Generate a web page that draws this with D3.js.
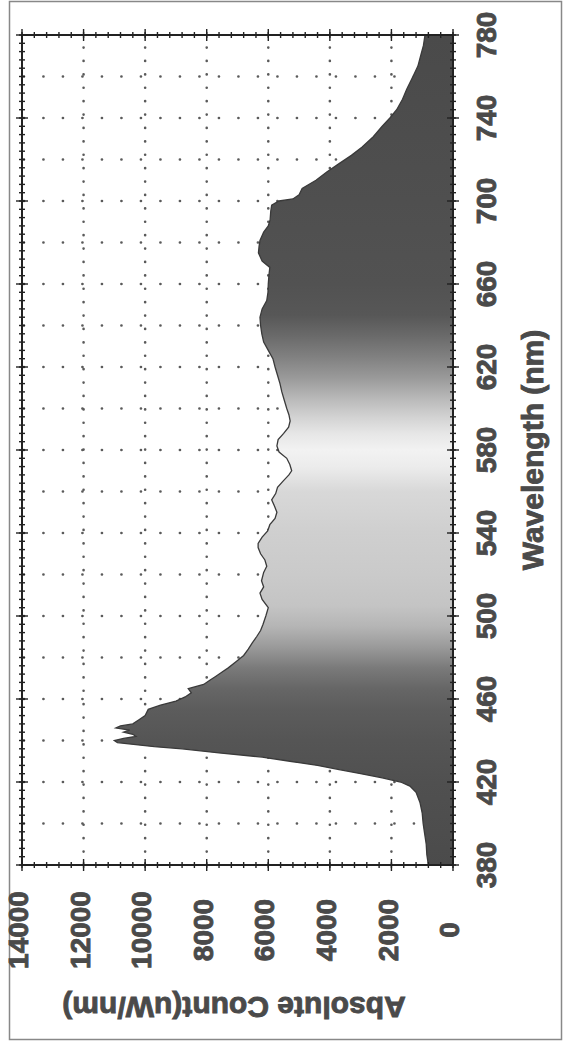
<!DOCTYPE html>
<html><head><meta charset="utf-8">
<script src="https://cdn.jsdelivr.net/npm/d3@7"></script>
<style>
html,body{margin:0;padding:0;background:#fff;}
svg{display:block;font-family:"Liberation Sans",Arial,sans-serif;font-weight:bold;}
</style></head>
<body>
<svg id="c" width="566" height="1052"></svg>
<script>
// ---- data ----
const wavelengths = [380,385,390,395,400,405,410,415,418,420,422,424,426,428,430,432,434,436,437,438,439,440,441,442,443,444,445,446,447,448,450,452,455,457,459,461,463,465,467,469,471,473,475,478,481,484,487,490,493,496,500,504,508,511,514,517,521,524,527,530,533,535,538,541,544,547,550,553,556,559,562,565,568,570,573,576,579,582,585,588,591,594,597,600,604,608,612,616,620,624,628,632,636,640,644,648,652,656,660,664,668,671,675,678,681,685,688,691,695,698,700,701,703,706,710,714,718,722,726,731,736,740,744,749,754,760,765,770,775,780];
const counts = [800,850,870,920,970,1000,1070,1200,1400,1700,2300,3000,3700,4400,5300,6200,7600,8800,9700,10300,10900,11000,10700,10300,10400,10700,10500,10950,10800,10400,10200,10000,9900,9500,9000,8700,8500,8600,8100,7900,7700,7500,7300,7050,6800,6650,6520,6380,6250,6170,6080,6000,6200,6270,6150,6220,6150,6050,6110,6250,6330,6330,6200,6020,5950,5780,5720,5800,5890,5760,5700,5520,5330,5240,5300,5400,5650,5720,5680,5500,5340,5290,5330,5400,5480,5560,5620,5700,5780,5850,6000,6150,6210,6250,6270,6200,6050,6010,6000,5980,5950,6200,6320,6300,6270,6150,6000,5940,5920,5890,5650,5200,5000,4900,4450,4100,3700,3300,2950,2590,2300,2050,1830,1640,1500,1300,1140,1050,960,910];
const wlTicks = [380,420,460,500,540,580,620,660,700,740,780];
const countTicks = [0,2000,4000,6000,8000,10000,12000,14000];
const wlTitle = "Wavelength (nm)";
const countTitle = "Absolute Count(uW/nm)";

// grayscale fill along the wavelength axis
const gradNm   = [380,420,440,455,465,475,485,495,505,520,540,560,572,580,588,596,605,615,625,635,645,660,700,780];
const gradGray = ["#4b4b4b","#505050","#555555","#5c5c5c","#666666","#7a7a7a","#9a9a9a","#b5b5b5","#c4c4c4","#cacaca","#cfcfcf","#d8d8d8","#ececec","#f2f2f2","#e6e6e6","#d2d2d2","#b8b8b8","#999999","#808080","#6a6a6a","#575757","#525252","#4f4f4f","#4a4a4a"];

const W = 566, H = 1052;
const svg = d3.select("#c");
const textColor = "#4a4a4a";

// outer frame
svg.append("rect").attr("x",9.5).attr("y",1.5).attr("width",552).attr("height",1038)
  .attr("fill","none").attr("stroke","#888").attr("stroke-width",1.5);

// chart drawn in normal orientation, then rotated -90deg
const g = svg.append("g").attr("transform",`translate(0,${H}) rotate(-90)`);
const x = d3.scaleLinear().domain([380,780]).range([H-865, H-35]);
const y = d3.scaleLinear().domain([0,14000]).range([453, 22]);

const defs = svg.append("defs");
const grad = defs.append("linearGradient").attr("id","spec")
  .attr("gradientUnits","userSpaceOnUse")
  .attr("x1",x(380)).attr("x2",x(780)).attr("y1",0).attr("y2",0);
gradNm.forEach((n,i)=>grad.append("stop").attr("offset",(n-380)/400).attr("stop-color",gradGray[i]));

// grid
const gridColor = "#5a5a5a";
g.append("g").selectAll("line").data(countTicks.filter(d=>d>0 && d<14000)).join("line")
  .attr("x1",x(380)).attr("x2",x(780)).attr("y1",d=>y(d)).attr("y2",d=>y(d))
  .attr("stroke",gridColor).attr("stroke-width",2.6).attr("stroke-linecap","round")
  .attr("stroke-dasharray","0.1,13.3");
const wlGrid = d3.range(400,780,20);
g.append("g").selectAll("line").data(wlGrid).join("line")
  .attr("x1",d=>x(d)).attr("x2",d=>x(d)).attr("y1",y(0)).attr("y2",y(14000))
  .attr("stroke",gridColor).attr("stroke-width",2.6).attr("stroke-linecap","round")
  .attr("stroke-dasharray","0.1,19.4");

const pts = wavelengths.map((w,i)=>[w,counts[i]]);
const area = d3.area().x(d=>x(d[0])).y0(y(0)).y1(d=>y(d[1])).curve(d3.curveLinear);
g.append("path").datum(pts).attr("d",area).attr("fill","url(#spec)");
const line = d3.line().x(d=>x(d[0])).y(d=>y(d[1]));
g.append("path").datum(pts).attr("d",line).attr("fill","none").attr("stroke","#3a3a3a").attr("stroke-width",1.3);

// plot frame
g.append("rect").attr("x",x(380)).attr("y",y(14000)).attr("width",x(780)-x(380)).attr("height",y(0)-y(14000))
  .attr("fill","none").attr("stroke","#222").attr("stroke-width",2);

// ticks (all four sides)
const wlMinor = d3.range(380,781,4);
const cMinor = d3.range(0,14001,400);
const tk = g.append("g").attr("stroke","#222").attr("stroke-width",1.4);
[y(0), y(14000)].forEach(v=>{
  tk.append("g").selectAll("line").data(wlMinor).join("line")
    .attr("x1",d=>x(d)).attr("x2",d=>x(d)).attr("y1",v-3).attr("y2",v+3);
  tk.append("g").selectAll("line").data(wlTicks).join("line")
    .attr("x1",d=>x(d)).attr("x2",d=>x(d)).attr("y1",v-6).attr("y2",v+6);
});
[x(380), x(780)].forEach(u=>{
  tk.append("g").selectAll("line").data(cMinor).join("line")
    .attr("x1",u-3).attr("x2",u+3).attr("y1",d=>y(d)).attr("y2",d=>y(d));
  tk.append("g").selectAll("line").data(countTicks).join("line")
    .attr("x1",u-6).attr("x2",u+6).attr("y1",d=>y(d)).attr("y2",d=>y(d));
});

const heavy = sel => sel.attr("fill",textColor).attr("stroke",textColor).attr("stroke-width",0.9).attr("paint-order","stroke");

// wavelength tick labels (below axis in chart frame)
g.append("g").selectAll("text").data(wlTicks).join("text")
  .attr("x",d=>x(d)).attr("y",486).attr("dy","0.36em")
  .attr("text-anchor","middle").attr("font-size",28)
  .call(heavy).text(d=>d);
// count tick labels
g.append("g").selectAll("text").data(countTicks).join("text")
  .attr("x",H-930).attr("y",d=>y(d)).attr("dy","0.22em")
  .attr("text-anchor","middle").attr("font-size",28)
  .call(heavy).text(d=>d);
// titles
g.append("text").attr("x",H-450).attr("y",532).attr("dy","0.36em")
  .attr("text-anchor","middle").attr("font-size",30).call(heavy).text(wlTitle);
g.append("text").attr("transform",`translate(${H-1008},234) rotate(-90)`).attr("dy","0.36em")
  .attr("text-anchor","middle").attr("font-size",30).call(heavy).text(countTitle);
</script>
</body></html>
